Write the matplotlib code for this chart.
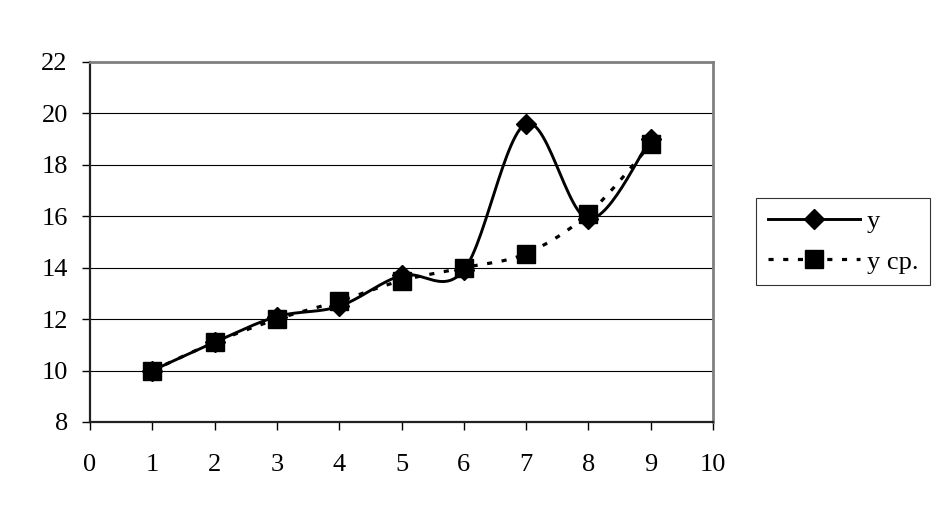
import matplotlib
matplotlib.use("Agg")
import matplotlib.pyplot as plt
import numpy as np

# data
x_vals = [1, 2, 3, 4, 5, 6, 7, 8, 9]
y_vals = [10.0, 11.1, 12.1, 12.5, 13.7, 13.9, 19.6, 15.9, 19.0]
y_avg = [10.0, 11.1, 12.0, 12.7, 13.5, 14.0, 14.55, 16.1, 18.8]
labels = ["y", "y ср."]
x_ticks = list(range(0, 11))
y_ticks = list(range(8, 23, 2))


def smooth(xs, ys, steps=30):
    """Excel-style smoothed line: Catmull-Rom as cubic Bezier segments."""
    p = np.column_stack([xs, ys]).astype(float)
    p = np.vstack([p[0], p, p[-1]])
    t = np.linspace(0, 1, steps)[:, None]
    out = []
    for i in range(1, len(p) - 2):
        p0, p3 = p[i], p[i + 1]
        c1 = p0 + (p[i + 1] - p[i - 1]) / 6
        c2 = p3 - (p[i + 2] - p[i]) / 6
        seg = ((1 - t) ** 3) * p0 + 3 * ((1 - t) ** 2) * t * c1 \
            + 3 * (1 - t) * t ** 2 * c2 + t ** 3 * p3
        out.append(seg if i == 1 else seg[1:])
    seg = np.vstack(out)
    return seg[:, 0], seg[:, 1]


plt.rcParams["font.family"] = ["Liberation Serif", "DejaVu Serif"]

fig = plt.figure(figsize=(9.48, 5.28), dpi=100)
ax = fig.add_axes([90 / 948, 106 / 528, 623 / 948, 360 / 528])

sx, sy = smooth(x_vals, y_vals)
ax.plot(sx, sy, color="black", lw=2.1, zorder=3)
ax.plot(x_vals, y_vals, ls="none", marker="D", ms=10.5, color="black", zorder=4)

ax_x, ax_y = smooth(x_vals, y_avg)
ax.plot(ax_x, ax_y, color="black", lw=2.3, ls=(0, (1.6, 3)), zorder=3)
ax.plot(x_vals, y_avg, ls="none", marker="s", ms=12.5, color="black", zorder=5)

ax.set_xlim(0, 10)
ax.set_ylim(8, 22)
ax.set_xticks(x_ticks)
ax.set_yticks(y_ticks)
ax.tick_params(axis="both", labelsize=19, direction="out", length=6, width=1)
ax.tick_params(axis="x", pad=17)
ax.tick_params(axis="y", pad=10)
ax.grid(axis="y", color="black", lw=0.8)
ax.set_axisbelow(True)

for side in ["left", "bottom"]:
    ax.spines[side].set_color("#222222")
    ax.spines[side].set_linewidth(1.6)
for side in ["top", "right"]:
    ax.spines[side].set_color("#808080")
    ax.spines[side].set_linewidth(2)

# legend with combined line + marker handles
h1, = ax.plot([], [], color="black", lw=2.1, marker="D", ms=10.5)
h2, = ax.plot([], [], color="black", lw=2.3, ls=(0, (1.6, 3)), marker="s", ms=12.5)
leg = fig.legend(
    [h1, h2], labels, loc="center left",
    bbox_to_anchor=(756 / 948, (528 - 241.5) / 528),
    fontsize=19, frameon=True, fancybox=False, handlelength=3.5,
    handletextpad=0.25, labelspacing=0.65, borderpad=0.45, borderaxespad=0,
)
leg.get_frame().set_edgecolor("black")
leg.get_frame().set_linewidth(0.8)

fig.savefig("out.png", dpi=100)
